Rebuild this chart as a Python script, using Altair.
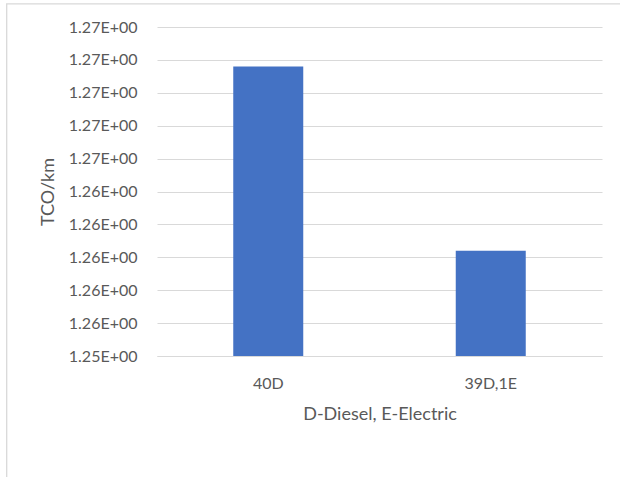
import altair as alt
import pandas as pd

# TCO per km for each fleet mix (D = diesel, E = electric)
fleet_mix = ["40D", "39D,1E"]
tco_per_km = [1.2716, 1.2604]

# y-axis tick positions
y_ticks = [1.254, 1.256, 1.258, 1.260, 1.262, 1.264, 1.266, 1.268, 1.270, 1.272, 1.274]

df = pd.DataFrame({"mix": fleet_mix, "tco": tco_per_km})

FONT = "Lato"
GREY = "#595959"
GRID = "#d9d9d9"

bars = alt.Chart(df).mark_bar(color="#4472C4", size=70).encode(
    x=alt.X(
        "mix:N",
        sort=fleet_mix,
        scale=alt.Scale(paddingInner=0, paddingOuter=0),
        axis=alt.Axis(
            title="D-Diesel, E-Electric",
            labelAngle=0,
            labelFont=FONT,
            labelFontSize=16,
            labelColor=GREY,
            labelPadding=19,
            titleFont=FONT,
            titleFontSize=18,
            titleFontWeight="normal",
            titleColor=GREY,
            titlePadding=14,
            ticks=False,
            domainColor=GRID,
            domainWidth=1,
            grid=False,
        ),
    ),
    y=alt.Y(
        "tco:Q",
        scale=alt.Scale(domain=[y_ticks[0], y_ticks[-1]], nice=False, zero=False),
        axis=alt.Axis(
            title="TCO/km",
            values=y_ticks,
            labelExpr="format(datum.value, '.2f') + 'E+00'",
            labelFont=FONT,
            labelFontSize=16,
            labelColor=GREY,
            labelPadding=20,
            titleFont=FONT,
            titleFontSize=18,
            titleFontWeight="normal",
            titleColor=GREY,
            titlePadding=11,
            ticks=False,
            domain=False,
            grid=True,
            gridColor=GRID,
            gridWidth=1,
        ),
    ),
    y2=alt.datum(y_ticks[0]),
)

# outer chart border
frame = alt.Chart(pd.DataFrame({"k": [0]})).mark_rect(
    fillOpacity=0, stroke=GRID, strokeWidth=1.3
).encode(
    x=alt.value(-150.3),
    x2=alt.value(480),
    y=alt.value(-23.2),
    y2=alt.value(470),
)

chart = alt.layer(frame, bars).properties(
    width=445,
    height=329,
    autosize=alt.AutoSizeParams(type="none"),
    padding={"left": 157, "top": 27, "right": 18, "bottom": 121},
    background="white",
).configure_view(stroke=None)

chart.save("out.html", embed_options={"renderer": "svg", "actions": False})
